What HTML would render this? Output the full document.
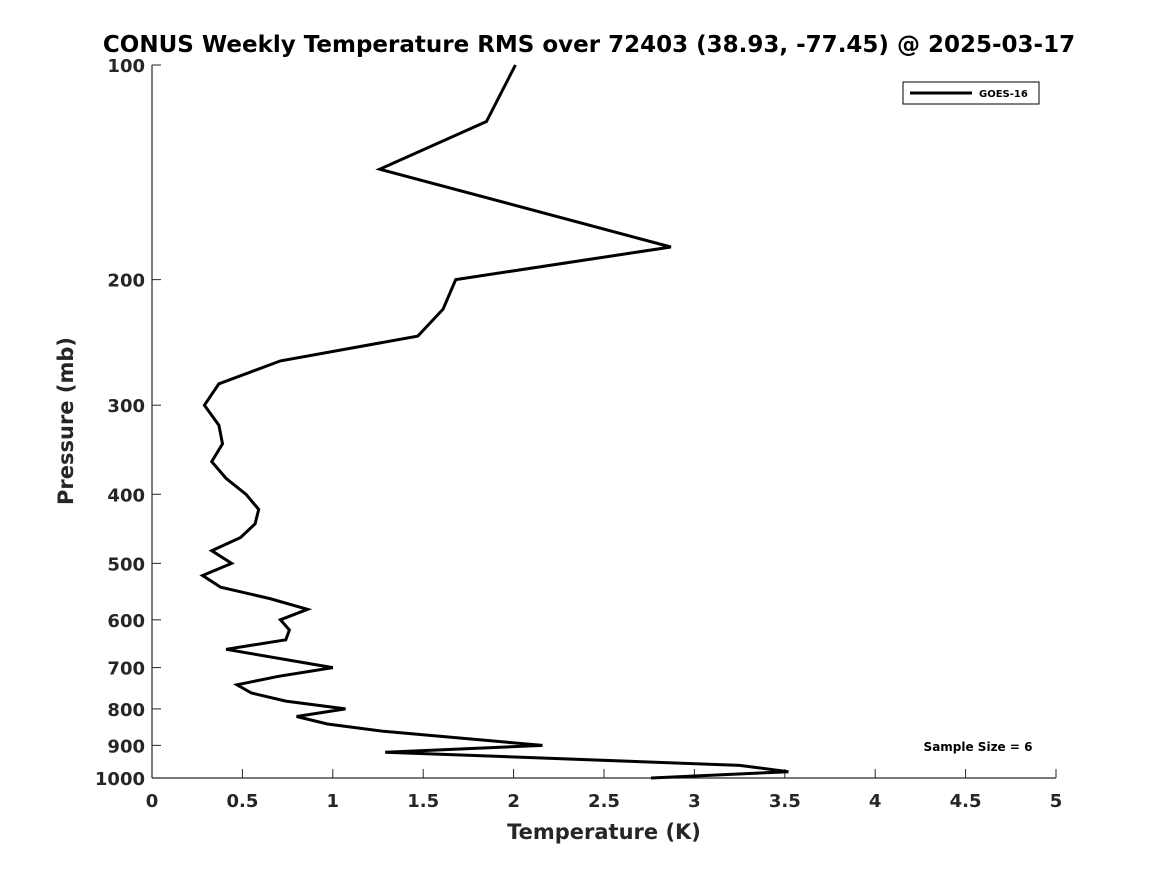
<!DOCTYPE html>
<html><head><meta charset="utf-8"><style>
html,body{margin:0;padding:0;background:#fff;}
svg{display:block;font-family:"DejaVu Sans","Liberation Sans",sans-serif;font-weight:bold;}
</style></head><body>
<svg id="chart" width="1167" height="875" viewBox="0 0 1167 875" xmlns="http://www.w3.org/2000/svg">
<text x="589" y="52" text-anchor="middle" font-size="23" fill="#000">CONUS Weekly Temperature RMS over 72403 (38.93, -77.45) @ 2025-03-17</text>
<g id="axes"></g>
<g id="series"></g>
<g>
<rect x="903" y="82" width="136" height="22" fill="#fff" stroke="#000" stroke-width="1"/>
<line x1="910" y1="93" x2="972" y2="93" stroke="#000" stroke-width="3"/>
<text x="979" y="97" font-size="10" fill="#000">GOES-16</text>
</g>
<text x="978" y="751" text-anchor="middle" font-size="12" fill="#000">Sample Size = 6</text>
<text x="604" y="839" text-anchor="middle" font-size="21" fill="#262626">Temperature (K)</text>
<text transform="translate(73,421) rotate(-90)" text-anchor="middle" font-size="21" fill="#262626">Pressure (mb)</text>
</svg>
<script>
const xTicks = [0,0.5,1,1.5,2,2.5,3,3.5,4,4.5,5];
const xTickLabels = ["0","0.5","1","1.5","2","2.5","3","3.5","4","4.5","5"];
const yTicks = [100,200,300,400,500,600,700,800,900,1000];
const yTickLabels = ["100","200","300","400","500","600","700","800","900","1000"];
const pressures = [100,120,140,180,200,220,240,260,280,300,320,340,360,380,400,420,440,460,480,500,520,540,560,580,600,620,640,660,700,720,740,760,780,800,820,840,860,900,920,960,980,1000];
const rmsValues = [2.01,1.85,1.26,2.87,1.68,1.61,1.47,0.71,0.37,0.29,0.37,0.39,0.33,0.41,0.52,0.59,0.57,0.49,0.33,0.44,0.28,0.38,0.65,0.86,0.71,0.76,0.74,0.41,1.00,0.70,0.47,0.55,0.74,1.07,0.80,0.97,1.28,2.16,1.29,3.25,3.52,2.76];

const X0=152,X1=1056,Y0=65,Y1=778;
function xs(v){return X0+(v-0)/(5-0)*(X1-X0);}
function ys(p){return Y0+(Math.log10(p)-2)/(3-2)*(Y1-Y0);}
const NS="http://www.w3.org/2000/svg";
const axes=document.getElementById('axes');
function mk(tag,attrs,parent){const e=document.createElementNS(NS,tag);for(const k in attrs)e.setAttribute(k,attrs[k]);parent.appendChild(e);return e;}

let a=mk('line',{x1:X0,y1:Y0,x2:X0,y2:Y1,stroke:'#262626','stroke-width':1.2},axes);


a=mk('line',{x1:X0,y1:Y1,x2:X1,y2:Y1,stroke:'#262626','stroke-width':1.2},axes);



xTicks.forEach((v,i)=>{
  const x=xs(v);
  const t=mk('line',{x1:x,y1:Y1,x2:x,y2:Y1-9,stroke:'#262626','stroke-width':1},axes);
  
  
  const l=mk('text',{x:x,y:Y1+29,'text-anchor':'middle','font-size':18,fill:'#262626'},axes);
  l.textContent=xTickLabels[i];
  
  
});
yTicks.forEach((p,i)=>{
  const y=ys(p);
  const t=mk('line',{x1:X0,y1:y,x2:X0+9,y2:y,stroke:'#262626','stroke-width':1},axes);
  
  
  const l=mk('text',{x:X0-7,y:y+7,'text-anchor':'end','font-size':18,fill:'#262626'},axes);
  l.textContent=yTickLabels[i];
  
  
});
const pts=pressures.map((p,i)=>xs(rmsValues[i]).toFixed(1)+','+ys(p).toFixed(1)).join(' ');
const line=mk('polyline',{points:pts,fill:'none',stroke:'#000','stroke-width':3,'stroke-linejoin':'miter','stroke-miterlimit':4},document.getElementById('series'));


</script>
</body></html>
